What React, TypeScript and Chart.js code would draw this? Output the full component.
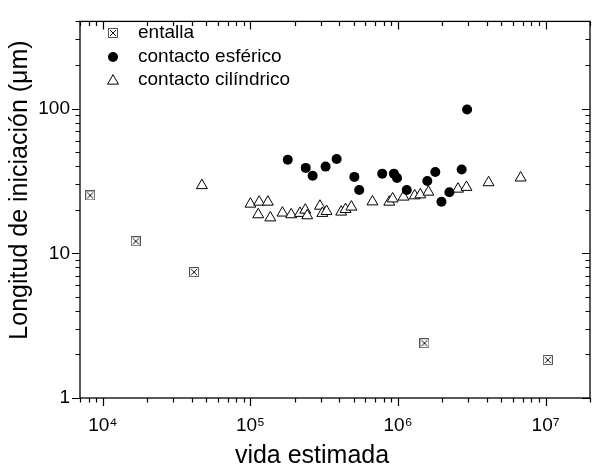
import React, { useEffect, useRef } from 'react';
import { Chart, registerables } from 'chart.js';
Chart.register(...registerables);

// ---- data ----
const entallaX = [8210, 16700, 41500, 1.51e6, 1.035e7];
const entallaY = [25.1, 12.1, 7.41, 2.39, 1.83];

const esfericoX = [1.79e5, 2.37e5, 2.64e5, 3.23e5, 3.84e5, 5.06e5, 5.46e5, 7.82e5, 9.38e5, 9.85e5, 1.146e6, 1.58e6, 1.79e6, 1.97e6, 2.23e6, 2.7e6, 2.94e6];
const esfericoY = [44.3, 38.9, 34.3, 39.7, 44.8, 33.7, 27.4, 35.5, 35.5, 33.1, 27.4, 31.6, 36.4, 22.7, 26.4, 37.9, 98.6];

const cilindricoX = [46900, 1.0e5, 1.146e5, 1.313e5, 1.129e5, 1.364e5, 1.648e5, 1.889e5, 2.166e5, 2.353e5, 2.426e5, 2.96e5, 3.07e5, 3.28e5, 4.12e5, 4.41e5, 4.83e5, 6.71e5, 8.73e5, 9.2e5, 1.09e6, 1.297e6, 1.417e6, 1.607e6, 2.55e6, 2.91e6, 4.11e6, 6.78e6];
const cilindricoY = [29.4, 21.9, 22.6, 22.6, 18.5, 17.6, 19.0, 18.5, 18.9, 19.9, 18.2, 21.2, 18.9, 19.5, 19.3, 20.1, 20.9, 22.7, 22.6, 23.8, 24.5, 25.0, 25.4, 26.5, 27.8, 28.6, 30.8, 33.2];

const seriesNames = ['entalla', 'contacto esférico', 'contacto cilíndrico'];

const xMajorTicks = [1e4, 1e5, 1e6, 1e7];
const xTickLabels = ['10⁴', '10⁵', '10⁶', '10⁷'];
const yMajorTicks = [1, 10, 100];
const yTickLabels = ['1', '10', '100'];

const xMin = 7000, xMax = 2e7;
const yMin = 1, yMax = 400;

const xTitle = 'vida estimada';
const yTitle = 'Longitud de iniciación (μm)';

// ---- helpers ----
function logTicks(min: number, max: number): number[] {
  const out: number[] = [];
  for (let e = Math.floor(Math.log10(min)); e <= Math.ceil(Math.log10(max)); e++) {
    for (let m = 1; m <= 9; m++) {
      const v = m * Math.pow(10, e);
      if (v >= min * 0.9999 && v <= max * 1.0001) out.push(v);
    }
  }
  return out;
}
const isMajor = (v: number) => Math.abs(Math.log10(v) - Math.round(Math.log10(v))) < 1e-9;
const labelFor = (v: number, majors: number[], labels: string[]) => {
  const i = majors.findIndex((m) => Math.abs(Math.log10(m) - Math.log10(v)) < 1e-9);
  return i >= 0 ? labels[i] : '';
};

const FONT = '"Liberation Sans", Arial, Helvetica, sans-serif';

function makeBoxCross(): HTMLCanvasElement {
  const c = document.createElement('canvas');
  c.width = 10; c.height = 10;
  const g = c.getContext('2d')!;
  g.fillStyle = '#fff';
  g.fillRect(0, 0, 10, 10);
  g.strokeStyle = '#555';
  g.lineWidth = 1;
  g.strokeRect(0.5, 0.5, 9, 9);
  g.strokeStyle = '#111';
  g.beginPath();
  g.moveTo(2, 2); g.lineTo(8, 8);
  g.moveTo(8, 2); g.lineTo(2, 8);
  g.stroke();
  return c;
}

function drawTriangle(ctx: CanvasRenderingContext2D, x: number, y: number, r: number) {
  ctx.beginPath();
  let rad = 0;
  ctx.moveTo(x + Math.sin(rad) * r, y - Math.cos(rad) * r);
  rad += (2 * Math.PI) / 3;
  ctx.lineTo(x + Math.sin(rad) * r, y - Math.cos(rad) * r);
  rad += (2 * Math.PI) / 3;
  ctx.lineTo(x + Math.sin(rad) * r, y - Math.cos(rad) * r);
  ctx.closePath();
  ctx.fillStyle = '#fff';
  ctx.fill();
  ctx.strokeStyle = '#000';
  ctx.lineWidth = 1;
  ctx.stroke();
}

export default function App() {
  const ref = useRef<HTMLCanvasElement>(null);
  useEffect(() => {
    document.body.style.margin = '0';
    const canvas = ref.current!;
    const boxCross = makeBoxCross();
    const xTickValues = logTicks(xMin, xMax);
    const yTickValues = logTicks(yMin, yMax);

    const decor = {
      id: 'decor',
      afterDraw(chart: any) {
        const { ctx, chartArea: a, scales } = chart;
        const xs = scales.x, ys = scales.y;
        ctx.save();
        ctx.strokeStyle = '#000';
        ctx.lineWidth = 1.3;
        ctx.strokeRect(a.left, a.top, a.right - a.left, a.bottom - a.top);
        ctx.lineWidth = 1.2;
        ctx.beginPath();
        for (const v of xTickValues) {
          const px = Math.round(xs.getPixelForValue(v)) + 0.5;
          const len = isMajor(v) ? 8 : 4.5;
          ctx.moveTo(px, a.bottom); ctx.lineTo(px, a.bottom + len);
          ctx.moveTo(px, a.top); ctx.lineTo(px, a.top + len);
        }
        for (const v of yTickValues) {
          const py = Math.round(ys.getPixelForValue(v)) + 0.5;
          const len = isMajor(v) ? 8 : 4.5;
          ctx.moveTo(a.left - len, py); ctx.lineTo(a.left, py);
          ctx.moveTo(a.right - len, py); ctx.lineTo(a.right, py);
        }
        ctx.stroke();

        // axis titles
        ctx.fillStyle = '#000';
        ctx.font = `25px ${FONT}`;
        ctx.textAlign = 'center';
        ctx.textBaseline = 'alphabetic';
        ctx.fillText(xTitle, 312, 463);
        ctx.save();
        ctx.translate(27, 190);
        ctx.rotate(-Math.PI / 2);
        ctx.fillText(yTitle, 0, 0);
        ctx.restore();

        // legend
        const rows = [33, 57, 80];
        const mx = 113, tx = 138;
        ctx.drawImage(boxCross, mx - 5, rows[0] - 5);
        ctx.beginPath();
        ctx.arc(mx, rows[1], 5, 0, Math.PI * 2);
        ctx.fillStyle = '#000';
        ctx.fill();
        drawTriangle(ctx, mx, rows[2] + 1, 6.3);
        ctx.fillStyle = '#000';
        ctx.font = `19px ${FONT}`;
        ctx.textAlign = 'left';
        ctx.textBaseline = 'middle';
        seriesNames.forEach((n, i) => ctx.fillText(n, tx, rows[i]));
        ctx.restore();
      },
    };

    const chart = new Chart(canvas, {
      type: 'scatter',
      data: {
        datasets: [
          {
            label: seriesNames[0],
            data: entallaX.map((x, i) => ({ x, y: entallaY[i] })),
            pointStyle: boxCross as any,
            pointRadius: 5,
            borderColor: '#000',
            backgroundColor: '#fff',
          },
          {
            label: seriesNames[1],
            data: esfericoX.map((x, i) => ({ x, y: esfericoY[i] })),
            pointStyle: 'circle',
            pointRadius: 5,
            borderWidth: 0,
            borderColor: '#000',
            backgroundColor: '#000',
          },
          {
            label: seriesNames[2],
            data: cilindricoX.map((x, i) => ({ x, y: cilindricoY[i] })),
            pointStyle: 'triangle',
            pointRadius: 6.3,
            borderWidth: 1,
            borderColor: '#000',
            backgroundColor: '#fff',
          },
        ],
      },
      options: {
        responsive: false,
        animation: false,
        devicePixelRatio: 1,
        events: [],
        layout: { padding: { top: 11, right: 1, left: 0, bottom: 0 } },
        plugins: { legend: { display: false }, tooltip: { enabled: false } },
        scales: {
          x: {
            type: 'logarithmic',
            min: xMin,
            max: xMax,
            grid: { display: false, drawTicks: false },
            border: { display: false },
            afterBuildTicks: (s: any) => { s.ticks = xTickValues.map((v) => ({ value: v })); },
            afterFit: (s: any) => { s.height = 71; },
            ticks: {
              autoSkip: false,
              maxRotation: 0,
              padding: 16,
              color: '#000',
              font: { family: FONT, size: 19 },
              callback: (v: any) => labelFor(Number(v), xMajorTicks, xTickLabels),
            },
          },
          y: {
            type: 'logarithmic',
            min: yMin,
            max: yMax,
            grid: { display: false, drawTicks: false },
            border: { display: false },
            afterBuildTicks: (s: any) => { s.ticks = yTickValues.map((v) => ({ value: v })); },
            afterFit: (s: any) => { s.width = 80; },
            ticks: {
              autoSkip: false,
              padding: 10,
              color: '#000',
              font: { family: FONT, size: 19 },
              callback: (v: any) => labelFor(Number(v), yMajorTicks, yTickLabels),
            },
          },
        },
      },
      plugins: [decor],
    } as any);
    return () => chart.destroy();
  }, []);
  return (
    <div style={{ width: 604, height: 469, overflow: 'hidden', background: '#fff' }}>
      <canvas ref={ref} width={606} height={469} style={{ display: 'block' }} />
    </div>
  );
}
